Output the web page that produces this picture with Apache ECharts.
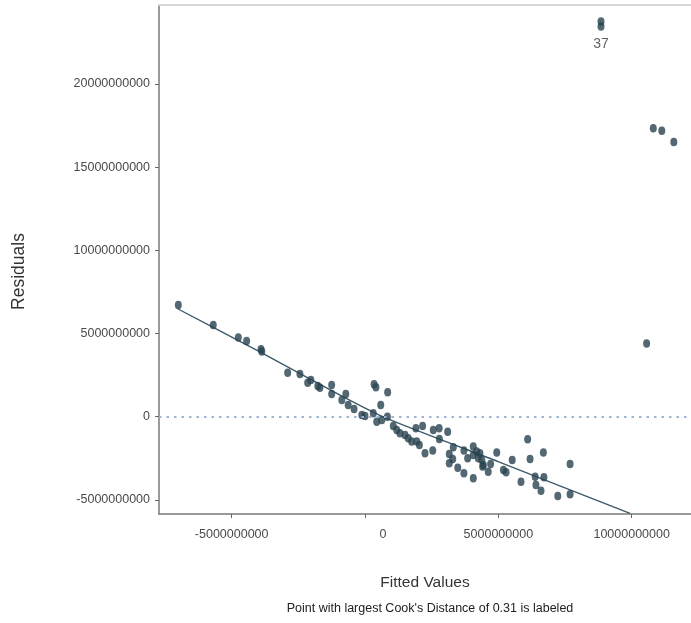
<!DOCTYPE html>
<html>
<head>
<meta charset="utf-8">
<script src="https://cdn.jsdelivr.net/npm/echarts@6/dist/echarts.min.js"></script>
<style>
  html, body { margin: 0; padding: 0; background: #ffffff; }
  #chart { width: 691px; height: 623px; }
</style>
</head>
<body>
<div id="chart"></div>
<script>
// Residuals vs fitted values for a linear model
const fitted = [
  -7.00e9, -5.69e9, -4.75e9, -4.44e9, -3.90e9, -3.87e9, -2.90e9, -2.44e9, -2.15e9, -2.03e9,
  -1.77e9, -1.69e9, -1.25e9, -1.25e9, -0.87e9, -0.72e9, -0.63e9, -0.41e9, -0.12e9, 0.00e9,
  0.34e9, 0.41e9, 0.85e9, 0.59e9, 0.31e9, 0.44e9, 0.63e9, 0.84e9, 1.06e9, 1.19e9,
  1.31e9, 1.50e9, 1.62e9, 1.75e9, 1.94e9, 2.04e9, 1.91e9, 2.16e9, 2.25e9, 2.54e9,
  2.56e9, 2.78e9, 2.79e9, 3.10e9, 3.16e9, 3.16e9, 3.31e9, 3.29e9, 3.48e9, 3.71e9,
  3.71e9, 3.85e9, 4.06e9, 4.06e9, 4.06e9, 4.19e9, 4.25e9, 4.31e9, 4.38e9, 4.44e9,
  4.41e9, 4.62e9, 4.71e9, 4.94e9, 5.19e9, 5.29e9, 5.52e9, 5.85e9, 6.10e9, 6.19e9,
  6.38e9, 6.41e9, 6.60e9, 6.69e9, 6.71e9, 7.23e9, 7.69e9, 7.69e9, 10.56e9, 10.81e9,
  11.13e9, 11.58e9, 8.85e9, 8.85e9
];
const residuals = [
  6.71e9, 5.51e9, 4.75e9, 4.55e9, 4.05e9, 3.91e9, 2.64e9, 2.57e9, 2.04e9, 2.21e9,
  1.85e9, 1.74e9, 1.91e9, 1.36e9, 1.00e9, 1.36e9, 0.70e9, 0.46e9, 0.10e9, 0.04e9,
  1.95e9, 1.77e9, 1.47e9, 0.70e9, 0.20e9, -0.30e9, -0.20e9, 0.00e9, -0.56e9, -0.80e9,
  -1.00e9, -1.10e9, -1.30e9, -1.50e9, -1.50e9, -1.70e9, -0.70e9, -0.56e9, -2.20e9, -2.04e9,
  -0.80e9, -0.70e9, -1.34e9, -0.90e9, -2.24e9, -2.80e9, -1.84e9, -2.54e9, -3.07e9, -2.04e9,
  -3.40e9, -2.50e9, -1.80e9, -2.30e9, -3.70e9, -2.10e9, -2.50e9, -2.20e9, -2.60e9, -2.90e9,
  -3.00e9, -3.31e9, -2.84e9, -2.16e9, -3.20e9, -3.34e9, -2.60e9, -3.91e9, -1.36e9, -2.54e9,
  -3.61e9, -4.10e9, -4.45e9, -2.16e9, -3.64e9, -4.77e9, -2.84e9, -4.66e9, 4.39e9, 17.33e9,
  17.19e9, 16.51e9, 23.75e9, 23.45e9
];
// Observation number shown next to the most influential point
const labelledIndex = 82;
const labelledName = '37';

// Smoothed trend of residuals on fitted values
const trendX = [-7.01e9, -3.94e9, -0.83e9, 0.81e9, 4.99e9, 9.94e9];
const trendY = [6.47e9, 3.89e9, 1.21e9, -0.10e9, -2.70e9, -5.81e9];

const xTicks = [-5e9, 0, 5e9, 10e9];
const yTicks = [-5e9, 0, 5e9, 10e9, 15e9, 20e9];

const xMin = -7.725e9, xMax = 12.225e9;
const font = '"Liberation Sans", Arial, sans-serif';
const pointColor = '#28424f';

const points = fitted.map((x, i) => {
  const item = { value: [x, residuals[i]] };
  if (i === labelledIndex) {
    item.label = {
      show: true, formatter: labelledName, position: 'bottom', distance: 11,
      fontFamily: font, fontSize: 14, color: '#3a3a3a'
    };
  }
  return item;
});

const chart = echarts.init(document.getElementById('chart'), null, { renderer: 'canvas' });
chart.setOption({
  animation: false,
  backgroundColor: '#ffffff',
  grid: { left: 159, right: 0, top: 5, bottom: 109, show: false },
  title: {
    text: 'Point with largest Cook\'s Distance of 0.31 is labeled',
    left: 425, top: 597, textAlign: 'center',
    textStyle: { fontFamily: font, fontSize: 12.5, fontWeight: 'normal', color: '#222222' }
  },
  xAxis: [
    {
      type: 'value', min: xMin, max: xMax,
      name: 'Fitted Values', nameLocation: 'middle', nameGap: 61,
      nameTextStyle: { fontFamily: font, fontSize: 15.5, color: '#333333' },
      axisLine: { show: true, onZero: false, lineStyle: { color: '#7a7a7a', width: 1.5 } },
      axisTick: { show: true, length: 4, customValues: xTicks, lineStyle: { color: '#666666' } },
      axisLabel: {
        customValues: xTicks, margin: 14,
        fontFamily: font, fontSize: 12.5, color: '#4a4a4a',
        formatter: v => (v === 0 ? '{z|0}' : String(v)),
        rich: { z: { padding: [0, 0, 0, 36], fontFamily: font, fontSize: 12.5, color: '#4a4a4a' } }
      },
      splitLine: { show: false }
    },
    {
      // upper frame edge of the panel
      type: 'value', position: 'top', min: xMin, max: xMax,
      axisLine: { show: true, onZero: false, lineStyle: { color: '#d6d6d6', width: 2 } },
      axisTick: { show: false }, axisLabel: { show: false }, splitLine: { show: false }
    }
  ],
  yAxis: {
    type: 'value', min: -5.85e9, max: 24.74e9,
    name: 'Residuals', nameLocation: 'middle', nameGap: 131,
    nameTextStyle: { fontFamily: font, fontSize: 17.5, color: '#333333', padding: [0, 24, 0, 0] },
    axisLine: { show: true, onZero: false, lineStyle: { color: '#7a7a7a', width: 1.5 } },
    axisTick: { show: true, length: 4, customValues: yTicks, lineStyle: { color: '#666666' } },
    axisLabel: {
      customValues: yTicks, margin: 9,
      fontFamily: font, fontSize: 12.5, color: '#4a4a4a',
      formatter: v => String(v)
    },
    splitLine: { show: false }
  },
  series: [
    {
      type: 'line',
      data: trendX.map((x, i) => [x, trendY[i]]),
      showSymbol: false, smooth: 0.2,
      lineStyle: { color: '#3d5a6a', width: 1.4 },
      z: 2,
      markLine: {
        silent: true, symbol: 'none', label: { show: false },
        lineStyle: { color: '#9db4d4', type: [2.5, 5], width: 2 },
        data: [{ yAxis: 0 }]
      }
    },
    {
      type: 'scatter',
      data: points,
      symbol: 'circle', symbolSize: [7, 8.5],
      itemStyle: { color: pointColor },
      z: 3
    }
  ]
});
</script>
</body>
</html>
